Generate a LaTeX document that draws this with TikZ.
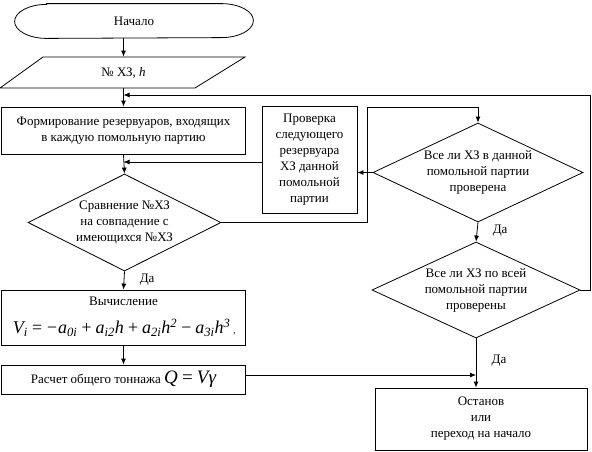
\documentclass[tikz,border=0pt]{standalone}
\usepackage{fontspec}
\setmainfont{Liberation Serif}
\usetikzlibrary{arrows.meta,positioning,shapes.geometric}
\begin{document}
\begin{tikzpicture}[x=1pt, y=-1pt, line width=0.8pt,
    every node/.style={font=\fontsize{13}{16}\selectfont},
    blk/.style={draw, rectangle, align=center, inner sep=2pt},
    term/.style={rectangle, minimum width=238pt, minimum height=34pt},
    cond/.style={draw, diamond, align=center, inner sep=0pt, aspect=2.1},
    frm/.style={font=\fontsize{18}{18}\selectfont\itshape},
    arr/.style={-{Latex[length=6pt,width=5pt]}},
    yes/.style={right=12pt, pos=0.45}]
    \useasboundingbox (0,0) rectangle (592,451);
    \node[term] (start) at (134,21) {Начало};
    \draw ([xshift=32pt]start.north west) -- ([xshift=-32pt]start.north east)
        arc[start angle=90, end angle=-90, x radius=32pt, y radius=17pt]
        -- ([xshift=32pt]start.south west)
        arc[start angle=270, end angle=90, x radius=32pt, y radius=17pt] -- cycle;
    \draw (43,57) -- (245,57) -- (195,88) -- (0,88) -- cycle;
    \node[minimum height=31pt, inner sep=0pt] (inp) at (123.5,72.5) {№ ХЗ, \textit{h}};
    \node[blk, minimum width=244pt, minimum height=47pt] (f) at (123.5,130.5) {Формирование резервуаров, входящих\\в каждую помольную партию};
    \node[cond, minimum width=193pt, minimum height=97pt] (cmp) at (124.5,222.5) {Сравнение №ХЗ\\на совпадение с\\имеющихся №ХЗ};
    \node[blk, minimum width=244pt, minimum height=55pt] (calc) at (123.5,317.5) {};
    \node[below=4pt of calc.north] (calct) {Вычисление};
    \node[frm, right=8pt of calc.west, yshift=-10pt] (calcf) {V\textsubscript{i}\,=\,−a\textsubscript{0i}\,+\,a\textsubscript{i2}h\,+\,a\textsubscript{2i}h\textsuperscript{2}\,−\,a\textsubscript{3i}h\textsuperscript{3}\,{\upshape\fontsize{9}{9}\selectfont,}};
    \node[blk, minimum width=244pt, minimum height=29pt] (r) at (123.5,379.5) {Расчет общего тоннажа {\fontsize{19}{19}\selectfont\itshape Q\,=\,Vγ}};
    \node[blk, minimum width=95pt, minimum height=107pt] (chk) at (309.5,159.5) {Проверка\\следующего\\резервуара\\ХЗ данной\\помольной\\партии};
    \node[cond, minimum width=210pt, minimum height=99pt] (d1) at (478,172.5) {Все ли ХЗ в данной\\помольной партии\\проверена};
    \node[cond, minimum width=208pt, minimum height=96pt] (d2) at (476,290) {Все ли ХЗ по всей\\помольной партии\\проверены};
    \node[blk, minimum width=212pt, minimum height=62pt] (stop) at (481,419) {Останов\\или\\переход на начало};
    \coordinate (lp) at (367,107);
    \coordinate (rp) at (590,95);
    \draw[arr] (start.south -| inp) -- (inp.north);
    \draw[arr] (inp.south) -- (f.north);
    \draw[arr] (f.south) -- (cmp.north);
    \draw[arr] (cmp.south) -- (calc.north) node[yes] {Да};
    \draw[arr] (calc.south) -- (r.north);
    \draw[arr] ([yshift=4.5pt]r.east) -- ([yshift=4.5pt]r.east -| d2.south);
    \draw[arr] (cmp.east) -| (lp) -| (d1.north);
    \draw[arr] (d1.west) -- (d1.west -| chk.east);
    \draw[arr] ([yshift=-2.5pt]chk.west) -- ([yshift=-2.5pt]chk.west -| f.south);
    \draw[arr] (d1.south) -- (d2.north) node[yes] {Да};
    \draw[arr] (d2.south) -- (d2.south |- stop.north) node[yes] {Да};
    \draw[arr] (d2.east) -| (rp) -- (rp -| f.north);
\end{tikzpicture}
\end{document}
